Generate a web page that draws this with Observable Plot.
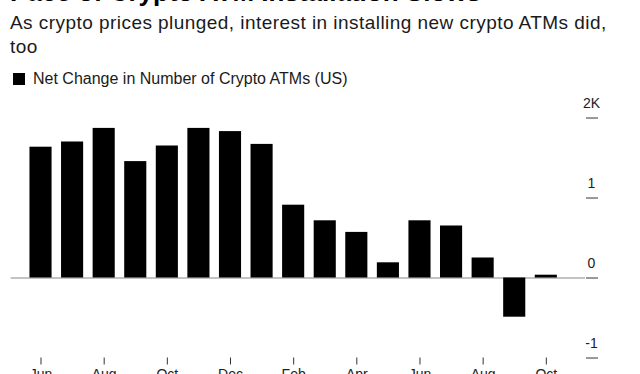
<!DOCTYPE html>
<html>
<head>
<meta charset="utf-8">
<script src="https://cdn.jsdelivr.net/npm/d3@7"></script>
<script src="https://cdn.jsdelivr.net/npm/@observablehq/plot@0.6"></script>
<style>
  html, body { margin: 0; padding: 0; background: #fff; overflow: hidden; width: 640px; height: 374px; }
  body { font-family: "Liberation Sans", Arial, sans-serif; color: #111; }
  #header { position: relative; height: 95px; width: 640px; overflow: hidden; }
  #titlebox { position: absolute; left: 0; top: 0; width: 640px; height: 6px; overflow: hidden; }
  #title { position: absolute; left: 10px; top: -21px; font-size: 26px; font-weight: bold; line-height: 26px; white-space: nowrap; color: #000; }
  #subtitle { position: absolute; left: 10px; top: 11px; font-size: 19px; letter-spacing: 0.45px; line-height: 24px; color: #1a1a1a; white-space: nowrap; }
  #legend { position: absolute; left: 13px; top: 71px; font-size: 16px; line-height: 16px; display: flex; align-items: center; color: #1a1a1a; white-space: nowrap; }
  #legend .sw { width: 12px; height: 12px; background: #000; margin-right: 8px; }
  #chart svg { display: block; }
</style>
</head>
<body>
<div id="header">
  <div id="titlebox"><div id="title">Pace of Crypto ATM Installation Slows</div></div>
  <div id="subtitle">As crypto prices plunged, interest in installing new crypto ATMs did,<br>too</div>
  <div id="legend"><span class="sw"></span><span>Net Change in Number of Crypto ATMs (US)</span></div>
</div>
<div id="chart"></div>
<script>
// Data (net change in number of crypto ATMs, thousands)
const months = ["2021-06","2021-07","2021-08","2021-09","2021-10","2021-11","2021-12","2022-01","2022-02","2022-03","2022-04","2022-05","2022-06","2022-07","2022-08","2022-09","2022-10"];
const netChangeK = [1.635, 1.70, 1.87, 1.455, 1.65, 1.87, 1.83, 1.67, 0.91, 0.715, 0.57, 0.19, 0.715, 0.65, 0.25, -0.49, 0.035];
const xTickMonths = ["2021-06","2021-08","2021-10","2021-12","2022-02","2022-04","2022-06","2022-08","2022-10"];
const xTickLabels = ["Jun","Aug","Oct","Dec","Feb","Apr","Jun","Aug","Oct"];
const yTickValues = [-1, 0, 1, 2];
const yTickLabels = ["-1", "0", "1", "2K"];

const data = months.map((m, i) => ({month: m, value: netChangeK[i]}));
const xLabel = new Map(xTickMonths.map((m, i) => [m, xTickLabels[i]]));
const yLabel = new Map(yTickValues.map((v, i) => [v, yTickLabels[i]]));

const chart = Plot.plot({
  width: 640,
  height: 300,
  marginLeft: 10.7,
  marginRight: 55,
  marginTop: 22.5,
  marginBottom: 37.5,
  style: {fontFamily: "'Liberation Sans', Arial, sans-serif", background: "#fff", color: "#222"},
  x: {type: "band", domain: months, paddingInner: 0.3, paddingOuter: 0.7426, align: 0.4, round: false},
  y: {domain: [-1, 2]},
  marks: [
    Plot.ruleY([0], {stroke: "#888", strokeWidth: 1.2}),
    Plot.barY(data, {x: "month", y: "value", fill: "#000"}),
    // y tick dashes
    Plot.axisY(yTickValues, {
      anchor: "right", tickSize: 12, stroke: "#333",
      tickFormat: () => "", label: null
    }),
    // y tick labels, centred above the dashes
    Plot.axisY(yTickValues, {
      anchor: "right", tickSize: 0, tickPadding: 6, textAnchor: "middle",
      dy: -14, fontSize: 14, fill: "#222",
      tickFormat: d => yLabel.get(d), label: null
    }),
    Plot.axisX(xTickMonths, {
      anchor: "bottom", tickSize: 7, tickPadding: 4, fontSize: 14, stroke: "#333", fill: "#222",
      tickFormat: d => xLabel.get(d), label: null
    })
  ]
});
document.getElementById("chart").appendChild(chart);
</script>
</body>
</html>
